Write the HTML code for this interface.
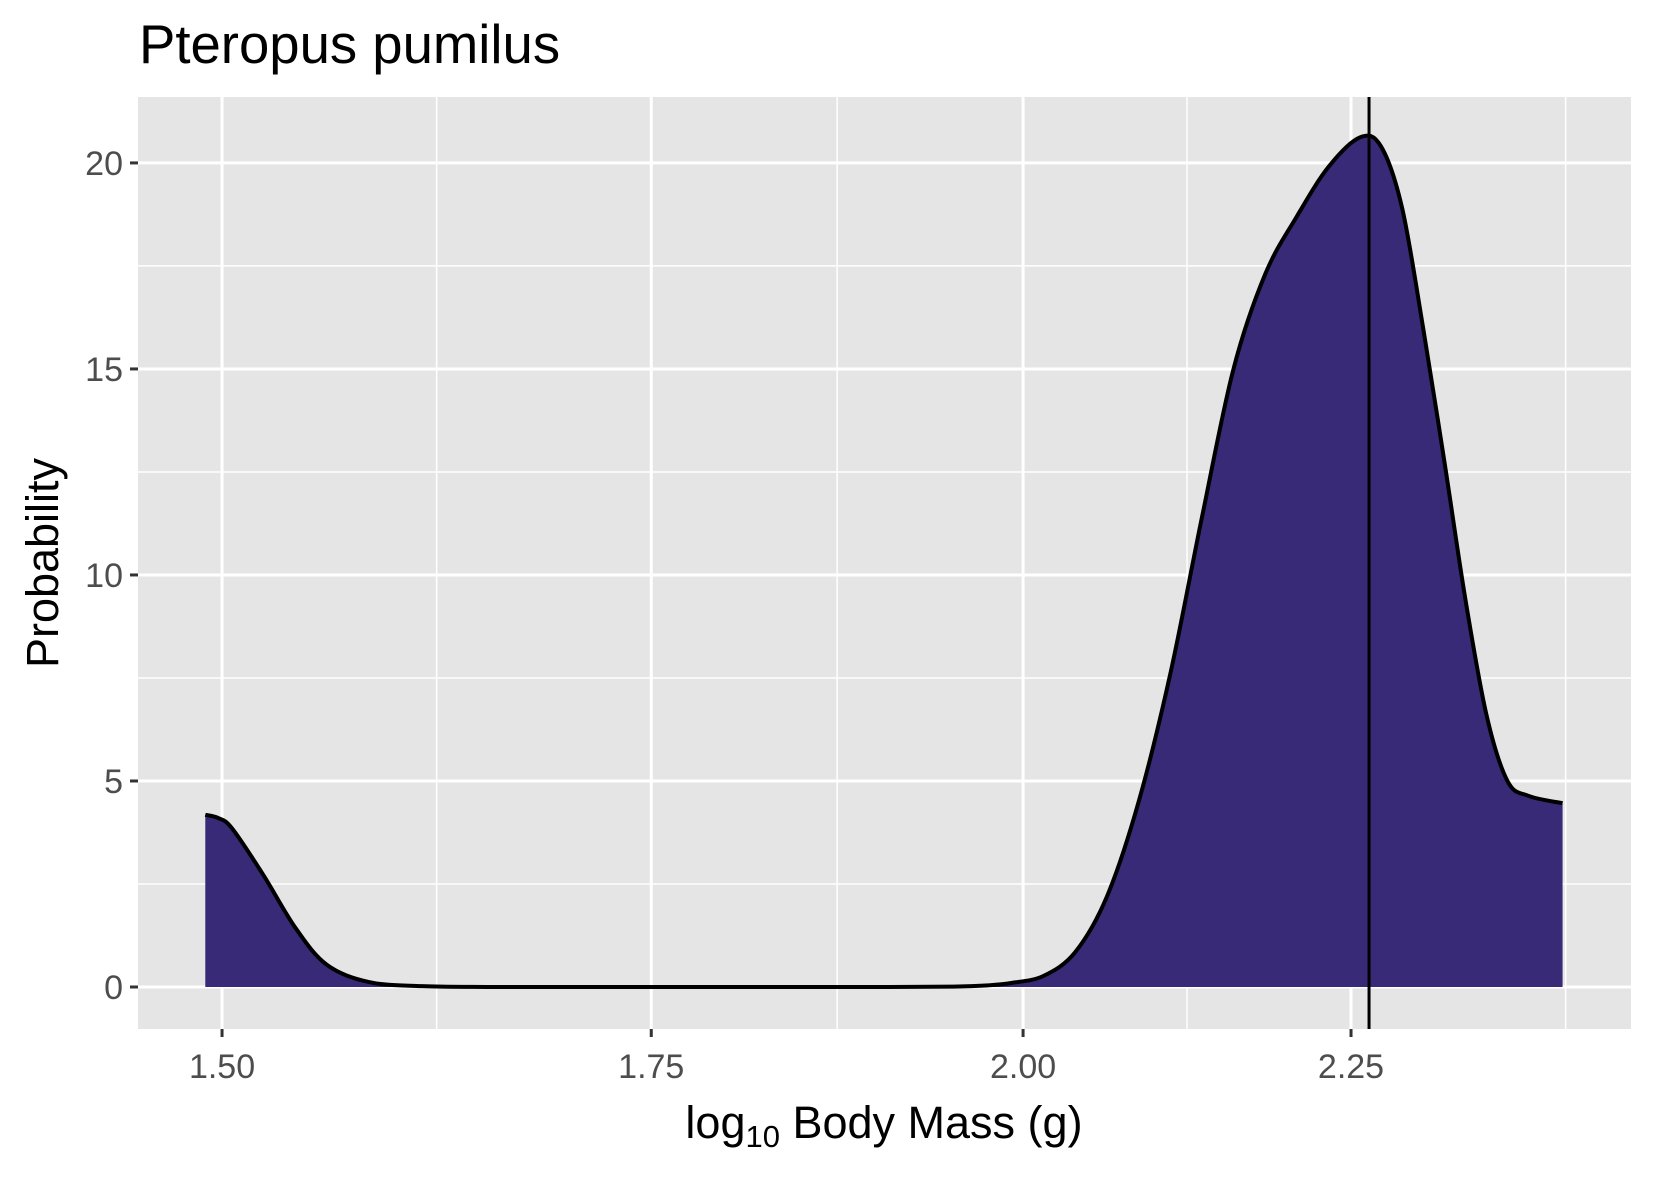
<!DOCTYPE html>
<html><head><meta charset="utf-8"><style>
html,body{margin:0;padding:0;background:#fff;}
svg{display:block;font-family:"Liberation Sans",Arial,sans-serif;}
</style></head><body>
<svg id="chart" width="1653" height="1181" viewBox="0 0 1653 1181">
<text x="139" y="63" font-size="54.5" fill="#000">Pteropus pumilus</text>
<rect x="138" y="97" width="1493" height="932" fill="#e5e5e5"/>
<g id="grid"></g>
<g id="area"></g>
<g id="axes"></g>
<text x="884" y="1138" font-size="45" text-anchor="middle" fill="#000">log<tspan font-size="31" dy="9">10</tspan><tspan dy="-9"> Body Mass (g)</tspan></text>
<text transform="translate(58,563) rotate(-90)" font-size="45" text-anchor="middle" fill="#000">Probability</text>
</svg>
<script>
const xVals=[1.491,1.498,1.5054,1.5224,1.540,1.5575,1.5813,1.6116,1.65,1.70,1.80,1.90,1.95,1.975,1.992,2.0148,2.0379,2.0612,2.0848,2.1086,2.1327,2.157,2.1817,2.2066,2.2318,2.2573,2.2744,2.2917,2.309,2.327,2.3444,2.3622,2.380,2.398,2.4276];
const yVals=[4.18,4.1,3.85,2.72,1.44,0.54,0.12,0.02,0,0,0,0,0.01,0.04,0.1,0.27,0.85,2.2,4.5,7.6,11.4,15,17.3,18.7,19.9,20.62,20.4,18.9,16,12.7,9.4,6.6,5.0,4.64,4.46];
const xBreaks=[1.50,1.75,2.00,2.25];
const xLabels=["1.50","1.75","2.00","2.25"];
const yBreaks=[0,5,10,15,20];
const yLabels=["0","5","10","15","20"];
const vlineX=[2.2646];
const NS="http://www.w3.org/2000/svg";
const L=138,R=1631,T=97,B=1029;
const lnMin=Math.log(1.4554),lnMax=Math.log(2.488);
function sx(v){return L+(Math.log(v)-lnMin)/(lnMax-lnMin)*(R-L);}
const yMin=-1.0194,yMax=21.6;
function sy(v){return B-(v-yMin)/(yMax-yMin)*(B-T);}
function mk(tag,attrs,parent){const e=document.createElementNS(NS,tag);for(const k in attrs)e.setAttribute(k,attrs[k]);parent.appendChild(e);return e;}
const grid=document.getElementById('grid'),area=document.getElementById('area'),axes=document.getElementById('axes');
const tb=xBreaks.map(b=>Math.log(b));const bd=tb[1]-tb[0];
const ext=[tb[0]-bd,...tb,tb[tb.length-1]+bd];
for(let i=0;i<ext.length-1;i++){const m=Math.exp((ext[i]+ext[i+1])/2);const px=sx(m);if(px>L&&px<R){const e=mk('line',{x1:px,x2:px,y1:T,y2:B,stroke:'#fff','stroke-width':1.5},grid);

}}
for(let i=0;i<yBreaks.length;i++){const m=yBreaks[i]+2.5;const py=sy(m);if(py>T&&py<B){const e=mk('line',{x1:L,x2:R,y1:py,y2:py,stroke:'#fff','stroke-width':1.5},grid);

}}
xBreaks.forEach((b,i)=>{const px=sx(b);const e=mk('line',{x1:px,x2:px,y1:T,y2:B,stroke:'#fff','stroke-width':3},grid);


const t=mk('line',{x1:px,x2:px,y1:B,y2:B+8,stroke:'#333','stroke-width':3},axes);


const lb=mk('text',{x:px,y:1078,'font-size':34,'text-anchor':'middle',fill:'#4d4d4d'},axes);lb.textContent=xLabels[i];

});
yBreaks.forEach((b,i)=>{const py=sy(b);const e=mk('line',{x1:L,x2:R,y1:py,y2:py,stroke:'#fff','stroke-width':3},grid);


const t=mk('line',{x1:L-8,x2:L,y1:py,y2:py,stroke:'#333','stroke-width':3},axes);


const lb=mk('text',{x:L-15,y:py+12,'font-size':34,'text-anchor':'end',fill:'#4d4d4d'},axes);lb.textContent=yLabels[i];

});
const pts=xVals.map((x,i)=>[sx(x),sy(yVals[i])]);
let d='M'+pts[0][0]+','+pts[0][1];
for(let i=0;i<pts.length-1;i++){const p0=pts[Math.max(0,i-1)],p1=pts[i],p2=pts[i+1],p3=pts[Math.min(pts.length-1,i+2)];
const c1=[p1[0]+(p2[0]-p0[0])/6,p1[1]+(p2[1]-p0[1])/6],c2=[p2[0]-(p3[0]-p1[0])/6,p2[1]-(p3[1]-p1[1])/6];
d+=' C'+c1[0]+','+c1[1]+' '+c2[0]+','+c2[1]+' '+p2[0]+','+p2[1];}
const z=sy(0);
const fill=mk('path',{d:d+' L'+pts[pts.length-1][0]+','+z+' L'+pts[0][0]+','+z+' Z',fill:'#382a77'},area);


const line=mk('path',{d:d,fill:'none',stroke:'#000','stroke-width':4,'stroke-linejoin':'round'},area);


vlineX.forEach(v=>{const e=mk('line',{x1:sx(v),x2:sx(v),y1:T,y2:B,stroke:'#000','stroke-width':3},area);

});
</script>
</body></html>
